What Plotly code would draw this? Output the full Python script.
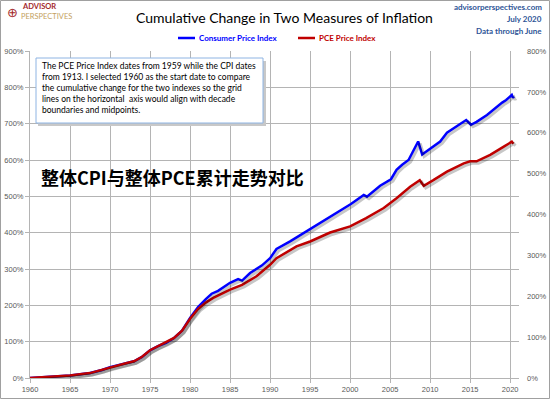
import plotly.graph_objects as go

# ---- data ----
# CPI read against the left axis (0-900%)
cpi_years = [1960.0, 1962.0, 1965.0, 1967.5, 1969.0, 1970.0, 1971.0, 1972.0, 1973.0, 1974.0,
             1975.0, 1976.0, 1977.0, 1978.0, 1979.0, 1980.0, 1981.0, 1982.0, 1982.7, 1983.5,
             1985.0, 1986.0, 1986.5, 1987.5, 1989.0, 1990.0, 1990.8, 1992.5, 1995.0, 1997.5,
             1999.2, 2000.1, 2001.7, 2002.1, 2003.75, 2005.1, 2005.8, 2006.5, 2007.3, 2008.5,
             2009.0, 2010.0, 2011.25, 2012.1, 2013.3, 2014.5, 2015.1, 2015.8, 2017.1, 2018.3,
             2019.0, 2019.5, 2020.2, 2020.35, 2020.45]
cpi_change = [0, 3, 7, 14, 22, 30, 36, 40, 46, 58,
              76, 88, 97, 110, 130, 165, 195, 218, 232, 240,
              262, 272, 268, 289, 310, 330, 355, 376, 410, 446,
              468, 479, 504, 499, 529, 547, 573, 587, 600, 651,
              615, 632, 651, 675, 692, 710, 697, 705, 724, 747,
              758, 765, 779, 771, 775]

# PCE read against the right axis (0-800%)
pce_years = [1960.0, 1962.0, 1965.0, 1967.5, 1969.0, 1970.0, 1971.0, 1972.0, 1973.0, 1974.0,
             1975.0, 1976.0, 1977.0, 1978.0, 1979.0, 1980.0, 1981.0, 1982.0, 1982.9, 1985.0,
             1986.5, 1988.3, 1990.0, 1990.8, 1993.3, 1995.0, 1997.5, 2000.0, 2002.0, 2004.2,
             2005.8, 2007.5, 2008.7, 2009.2, 2010.4, 2012.1, 2014.2, 2015.0, 2015.8, 2017.5,
             2019.2, 2020.2, 2020.4]
pce_change = [0, 3, 6, 12, 20, 27, 32, 36, 41, 52,
              68, 78, 86, 98, 116, 145, 169, 185, 196, 216,
              228, 249, 277, 293, 322, 334, 356, 371, 391, 416,
              440, 468, 484, 470, 484, 505, 525, 530, 530, 546,
              566, 578, 573]

x_ticks = list(range(1960, 2021, 5))
left_ticks = list(range(0, 901, 100))
right_ticks = list(range(0, 801, 100))

X_RANGE = [1960, 2021.1]
LEFT_RANGE = [0, 900]
RIGHT_RANGE = [0, 800]

# ---- layout helpers (pixel -> paper) ----
W_FIG, H_FIG = 550, 399
L, R, T, B = 30, 31, 51, 21
W = W_FIG - L - R
H = H_FIG - T - B


def px(x):
    return (x - L) / W


def py(y):
    return 1 - (y - T) / H


def shifted(rng, pixels, span):
    # shift an axis range so that traces drawn on it appear offset by `pixels`
    d = (rng[1] - rng[0]) * pixels / span
    return [rng[0] - d, rng[1] - d]


BLUE = "#0000FF"
RED = "#C00000"
GRID = "#B4B4B4"
TICKC = "#595959"
NAVY = "#2E5597"
SHADOW = "rgba(0,0,0,0.22)"

fig = go.Figure()
# drop shadows (same data on hidden, slightly shifted overlay axes)
fig.add_trace(go.Scatter(x=cpi_years, y=cpi_change, mode="lines", xaxis="x2", yaxis="y3",
                         line=dict(color=SHADOW, width=3), showlegend=False, hoverinfo="skip"))
fig.add_trace(go.Scatter(x=pce_years, y=pce_change, mode="lines", xaxis="x2", yaxis="y4",
                         line=dict(color=SHADOW, width=3), showlegend=False, hoverinfo="skip"))
# series
fig.add_trace(go.Scatter(x=cpi_years, y=cpi_change, mode="lines", name="Consumer Price Index",
                         line=dict(color=BLUE, width=2.5), showlegend=False, hoverinfo="skip"))
fig.add_trace(go.Scatter(x=pce_years, y=pce_change, mode="lines", name="PCE Price Index",
                         yaxis="y2",
                         line=dict(color=RED, width=2.5), showlegend=False, hoverinfo="skip"))

annotations = [
    dict(x=px(284), y=py(17), text="Cumulative Change in Two Measures of Inflation",
         font=dict(family="Lato", size=14, color="#000000"), xanchor="center", yanchor="middle"),
    dict(x=px(197), y=py(38), text="<b>Consumer Price Index</b>",
         font=dict(family="Lato", size=8, color=BLUE), xanchor="left", yanchor="middle"),
    dict(x=px(317), y=py(38), text="<b>PCE Price Index</b>",
         font=dict(family="Lato", size=8, color=RED), xanchor="left", yanchor="middle"),
    dict(x=px(544), y=py(7), text="<b>advisorperspectives.com</b>",
         font=dict(family="Lato", size=8, color=NAVY), xanchor="right", yanchor="middle"),
    dict(x=px(544), y=py(19), text="<b>July 2020</b>",
         font=dict(family="Lato", size=8, color=NAVY), xanchor="right", yanchor="middle"),
    dict(x=px(544), y=py(31), text="<b>Data through June</b>",
         font=dict(family="Lato", size=8, color=NAVY), xanchor="right", yanchor="middle"),
    dict(x=px(12), y=py(12), text="⊕",
         font=dict(family="DejaVu Sans", size=13, color="#A3282C"), xanchor="center", yanchor="middle"),
    dict(x=px(19.5), y=py(6.5), text="<b>ADVISOR</b>",
         font=dict(family="Lato", size=7.5, color="#A3282C"), xanchor="left", yanchor="middle"),
    dict(x=px(19), y=py(16.5), text="PERSPECTIVES",
         font=dict(family="Lato", size=7.5, color="#C4A15E"), xanchor="left", yanchor="middle"),
    dict(x=px(40), y=py(59), xanchor="left", yanchor="top", align="left",
         text="The PCE Price Index dates from 1959 while the CPI dates<br>"
              "from 1913. I selected 1960 as the start date to compare<br>"
              "the cumulative change for the two indexes so the grid<br>"
              "lines on the horizontal  axis would align with decade<br>"
              "boundaries and midpoints.",
         font=dict(family="Lato", size=8.5, color="#000000")),
    dict(x=px(39), y=py(177), text="<b>整体CPI与整体PCE累计走势对比</b>",
         font=dict(family="Noto Sans CJK SC", size=18, color="#000000"), xanchor="left", yanchor="middle"),
]
for a in annotations:
    a.update(xref="paper", yref="paper", showarrow=False)

shapes = [
    # legend keys
    dict(type="line", x0=px(178), x1=px(195), y0=py(38), y1=py(38), line=dict(color=BLUE, width=2.5)),
    dict(type="line", x0=px(298), x1=px(315), y0=py(38), y1=py(38), line=dict(color=RED, width=2.5)),
    # note box shadow + box
    dict(type="rect", x0=px(38), x1=px(266), y0=py(61), y1=py(126), fillcolor="#C8C8C8",
         line=dict(width=0), layer="above"),
    dict(type="rect", x0=px(36), x1=px(263), y0=py(58), y1=py(123), fillcolor="#FFFFFF",
         line=dict(color="#8EB4E3", width=1), layer="above"),
    # outer frame
    dict(type="rect", x0=px(0.5), x1=px(549.5), y0=py(0.5), y1=py(398.5),
         line=dict(color="#A0A0A0", width=1)),
]
for s in shapes:
    s.update(xref="paper", yref="paper")

tickfont = dict(family="Liberation Sans", size=7.5, color=TICKC)
fig.update_layout(
    width=W_FIG, height=H_FIG,
    margin=dict(l=L, r=R, t=T, b=B, pad=0, autoexpand=False),
    paper_bgcolor="#FFFFFF", plot_bgcolor="#FFFFFF",
    showlegend=False,
    annotations=annotations, shapes=shapes,
    xaxis=dict(range=X_RANGE, tickvals=x_ticks, ticktext=[str(v) for v in x_ticks],
               automargin=False,
               showgrid=True, gridcolor=GRID, gridwidth=1, zeroline=False,
               showline=True, linecolor=GRID, linewidth=1,
               ticks="outside", ticklen=4, tickcolor=GRID, tickfont=tickfont),
    xaxis2=dict(range=shifted(X_RANGE, 2, W), overlaying="x", visible=False, automargin=False),
    yaxis=dict(range=LEFT_RANGE, tickvals=left_ticks, ticktext=[f"{v}%" for v in left_ticks],
               automargin=False,
               showgrid=True, gridcolor=GRID, gridwidth=1, zeroline=False,
               showline=True, linecolor=GRID, linewidth=1,
               ticks="outside", ticklen=4, tickcolor=GRID, tickfont=tickfont),
    yaxis2=dict(range=RIGHT_RANGE, tickvals=right_ticks, ticktext=[f"{v}%" for v in right_ticks],
                automargin=False,
                overlaying="y", side="right", showgrid=False, zeroline=False, showline=False,
                ticks="", ticklabelstandoff=7, tickfont=tickfont),
    yaxis3=dict(range=[-v for v in shifted([-LEFT_RANGE[1], -LEFT_RANGE[0]], 2, H)][::-1],
                overlaying="y", visible=False, automargin=False),
    yaxis4=dict(range=[-v for v in shifted([-RIGHT_RANGE[1], -RIGHT_RANGE[0]], 2, H)][::-1],
                overlaying="y", visible=False, automargin=False),
)

fig.write_html("out.html", config={"displayModeBar": False},
               post_script="document.body.style.margin='0';")
